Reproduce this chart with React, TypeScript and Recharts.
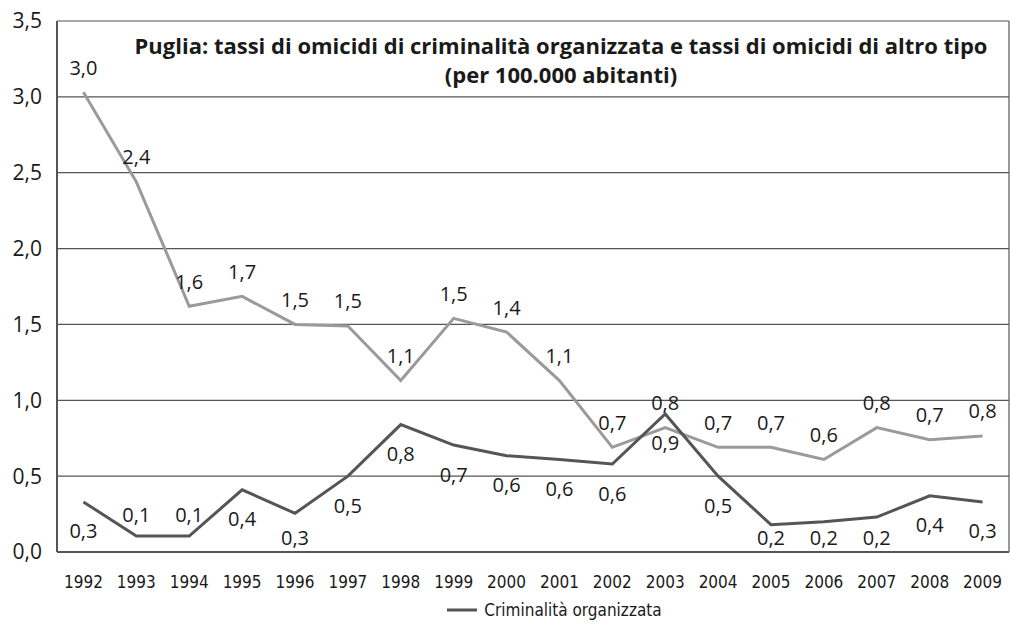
import { LineChart, Line, XAxis, YAxis, CartesianGrid, Legend, LabelList } from "recharts";

const YEARS = ["1992", "1993", "1994", "1995", "1996", "1997", "1998", "1999", "2000", "2001", "2002", "2003", "2004", "2005", "2006", "2007", "2008", "2009"];
const ORGANIZZATA = [0.33, 0.105, 0.105, 0.41, 0.255, 0.5, 0.84, 0.705, 0.635, 0.61, 0.58, 0.91, 0.5, 0.18, 0.2, 0.23, 0.37, 0.33];
const ALTRO_TIPO = [3.03, 2.44, 1.62, 1.685, 1.5, 1.49, 1.13, 1.54, 1.45, 1.13, 0.69, 0.82, 0.69, 0.69, 0.61, 0.82, 0.74, 0.765];
const Y_TICKS = [0, 0.5, 1, 1.5, 2, 2.5, 3, 3.5];

const TITLE_1 = "Puglia: tassi di omicidi di criminalità organizzata e tassi di omicidi di altro tipo";
const TITLE_2 = "(per 100.000 abitanti)";

const data = YEARS.map((anno, i) => ({
  anno,
  organizzata: ORGANIZZATA[i],
  altro: ALTRO_TIPO[i],
}));

const W = 1010;
const H = 624;
const LEGEND_H = 30;
const XAXIS_H = 42;
const PLOT_BOTTOM = H - LEGEND_H - XAXIS_H;

const DARK = "#555555";
const LIGHT = "#9a9a9a";
const TEXT = "#1a1a1a";
const FONT = "'Open Sans', 'Noto Sans', sans-serif";
const NARROW = "'Liberation Sans Narrow', 'DejaVu Sans Condensed', 'Open Sans', sans-serif";

const fmt = (v: number) => v.toFixed(1).replace(".", ",");

/* label renderers: light series above the point, dark below (kept inside the plot) */
const labelAbove = (props: any) => {
  const { x, y, value } = props;
  return (
    <text x={x} y={y - 25} textAnchor="middle" dominantBaseline="central" fontSize={20} fill={TEXT} fontFamily={FONT}>
      {fmt(value)}
    </text>
  );
};

const labelBelow = (props: any) => {
  const { x, y, value } = props;
  const ly = value < 0.15 ? y - 22 : Math.min(y + 29, PLOT_BOTTOM - 15);
  return (
    <text x={x} y={ly} textAnchor="middle" dominantBaseline="central" fontSize={20} fill={TEXT} fontFamily={FONT}>
      {fmt(value)}
    </text>
  );
};

const renderLegend = () => (
  <div
    style={{
      display: "flex",
      justifyContent: "center",
      alignItems: "center",
      paddingLeft: 100,
      paddingTop: 6,
      fontFamily: NARROW,
      fontSize: 17,
      color: TEXT,
      fontWeight: 400,
    }}
  >
    <svg width={32} height={10} style={{ marginRight: 5 }}>
      <line x1={0} y1={5} x2={30} y2={5} stroke={DARK} strokeWidth={3} />
    </svg>
    <span>Criminalità organizzata</span>
  </div>
);

export default function App() {
  return (
    <div style={{ position: "absolute", left: 0, top: 0, width: W, height: H, background: "#fff" }}>
      <LineChart width={W} height={H} data={data} margin={{ top: 21, right: 1, left: 0, bottom: 0 }}>
        <CartesianGrid
          stroke={DARK}
          strokeWidth={1.2}
          vertical={true}
          verticalCoordinatesGenerator={({ offset }: any) => [offset.left + offset.width]}
        />
        <XAxis
          dataKey="anno"
          scale="band"
          height={XAXIS_H}
          tickLine={false}
          axisLine={{ stroke: DARK, strokeWidth: 2 }}
          tickMargin={18}
          tick={{ fontSize: 17, fill: TEXT, fontFamily: NARROW, fontWeight: 400 }}
          interval={0}
        />
        <YAxis
          width={57}
          domain={[0, 3.5]}
          ticks={Y_TICKS}
          tickFormatter={fmt}
          tickLine={false}
          axisLine={{ stroke: DARK, strokeWidth: 2 }}
          tickMargin={9}
          tick={{ fontSize: 21, fill: TEXT, fontFamily: FONT }}
        />
        <Legend verticalAlign="bottom" height={LEGEND_H} content={renderLegend} />
        <Line
          type="linear"
          dataKey="altro"
          name="Omicidi di altro tipo"
          stroke={LIGHT}
          strokeWidth={3}
          dot={false}
          legendType="none"
          isAnimationActive={false}
        >
          <LabelList dataKey="altro" content={labelAbove} />
        </Line>
        <Line
          type="linear"
          dataKey="organizzata"
          name="Criminalità organizzata"
          stroke={DARK}
          strokeWidth={3}
          dot={false}
          isAnimationActive={false}
        >
          <LabelList dataKey="organizzata" content={labelBelow} />
        </Line>
      </LineChart>
      <div
        style={{
          position: "absolute",
          left: 57,
          right: 1,
          top: 30,
          textAlign: "center",
          fontFamily: FONT,
          fontWeight: 700,
          fontSize: 22,
          lineHeight: "30px",
          color: TEXT,
          whiteSpace: "nowrap",
          transform: "translateX(28px)",
        }}
      >
        <div style={{ height: 29 }}>{TITLE_1}</div>
        <div style={{ height: 29 }}>{TITLE_2}</div>
      </div>
    </div>
  );
}
